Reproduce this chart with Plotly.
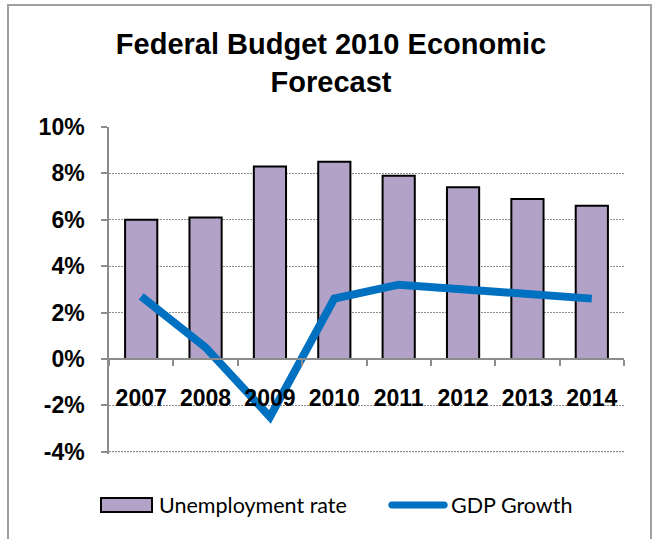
import plotly.graph_objects as go

# Forecast figures (percent)
years = ["2007", "2008", "2009", "2010", "2011", "2012", "2013", "2014"]
unemployment_rate = [6.0, 6.1, 8.3, 8.5, 7.9, 7.4, 6.9, 6.6]
gdp_growth = [2.7, 0.5, -2.5, 2.6, 3.2, 3.0, 2.8, 2.6]

y_tick_values = [-4, -2, 0, 2, 4, 6, 8, 10]
y_tick_labels = ["-4%", "-2%", "0%", "2%", "4%", "6%", "8%", "10%"]

W, H = 653, 539
ML, MR, MT, MB = 109, 29, 127, 85
PW, PH = W - ML - MR, H - MT - MB
# a little room below -4% for its gridline
Y_MIN, Y_MAX = -4.1, 10

BAR_COLOR = "#B3A2C7"
LINE_COLOR = "#0070C0"
AXIS_GRAY = "#8C8C8C"
GRID_DASH = "2px,1px"
TICK_FONT = dict(family="Liberation Sans, Arial, sans-serif", size=23, color="#000000", weight="bold")
LEGEND_FONT = dict(family="Lato, Noto Sans, sans-serif", size=21.5, color="#000000")


def px_x(px):
    return (px - ML) / PW


def px_y(py):
    return (H - MB - py) / PH


fig = go.Figure()

fig.add_trace(go.Bar(
    x=years, y=unemployment_rate, name="Unemployment rate",
    marker=dict(color=BAR_COLOR, line=dict(color="#000000", width=2)),
    width=0.5, showlegend=False,
))

fig.add_trace(go.Scatter(
    x=years, y=gdp_growth, name="GDP Growth", mode="lines",
    line=dict(color=LINE_COLOR, width=8), showlegend=False,
))

fig.update_layout(
    width=W, height=H,
    margin=dict(l=ML, r=MR, t=MT, b=MB, pad=0),
    paper_bgcolor="#FFFFFF", plot_bgcolor="#FFFFFF",
    title=dict(
        text="<b>Federal Budget 2010 Economic<br>Forecast</b>",
        x=331 / W, xanchor="center", xref="container",
        y=1 - 54 / H, yanchor="top", yref="container",
        font=dict(family="Liberation Sans, Arial, sans-serif", size=29, color="#000000"),
    ),
    showlegend=False,
)

fig.update_yaxes(
    range=[Y_MIN, Y_MAX], domain=[0, 1],
    tickvals=y_tick_values, ticktext=y_tick_labels,
    tickfont=TICK_FONT,
    showline=True, linecolor=AXIS_GRAY, linewidth=1.5,
    ticks="outside", ticklen=6, tickcolor=AXIS_GRAY, tickwidth=1.5,
    ticklabelstandoff=12,
    showgrid=True, gridcolor=AXIS_GRAY, gridwidth=1, griddash=GRID_DASH,
    zeroline=False,
)

fig.update_xaxes(
    type="category", range=[-0.5, len(years) - 0.5],
    anchor="free", position=(0 - Y_MIN) / (Y_MAX - Y_MIN),
    tickfont=TICK_FONT,
    showline=True, linecolor=AXIS_GRAY, linewidth=1.5,
    ticks="outside", tickson="boundaries", ticklen=6, tickcolor=AXIS_GRAY, tickwidth=1.5,
    ticklabelstandoff=19,
    showgrid=False, zeroline=False,
)

# Bottom gridline at the lowest tick
fig.add_shape(type="line", xref="x domain", yref="y",
              x0=0, x1=1, y0=y_tick_values[0], y1=y_tick_values[0],
              line=dict(color=AXIS_GRAY, width=1, dash=GRID_DASH), layer="above")

# Outer chart frame
fig.add_shape(type="rect", xref="paper", yref="paper",
              x0=px_x(8), x1=px_x(651), y0=px_y(560), y1=px_y(5),
              line=dict(color="#A0A0A0", width=2), fillcolor="rgba(0,0,0,0)", layer="below")

# Legend: bar swatch and label
fig.add_shape(type="rect", xref="paper", yref="paper",
              x0=px_x(101), x1=px_x(152), y0=px_y(512), y1=px_y(498),
              line=dict(color="#000000", width=2), fillcolor=BAR_COLOR)
fig.add_annotation(xref="paper", yref="paper", x=px_x(157), y=px_y(505),
                   xanchor="left", yanchor="middle", showarrow=False,
                   text="Unemployment rate", font=LEGEND_FONT)

# Legend: line swatch with rounded ends and label
fig.add_shape(type="path", xref="paper", yref="paper",
              xsizemode="pixel", ysizemode="pixel",
              xanchor=px_x(418), yanchor=px_y(505),
              path="M -26,-3.5 L 26,-3.5 C 31,-3.5 31,3.5 26,3.5 L -26,3.5 C -31,3.5 -31,-3.5 -26,-3.5 Z",
              line=dict(width=0), fillcolor=LINE_COLOR)
fig.add_annotation(xref="paper", yref="paper", x=px_x(449), y=px_y(505),
                   xanchor="left", yanchor="middle", showarrow=False,
                   text="GDP Growth", font=LEGEND_FONT)

fig.write_html("out.html")
